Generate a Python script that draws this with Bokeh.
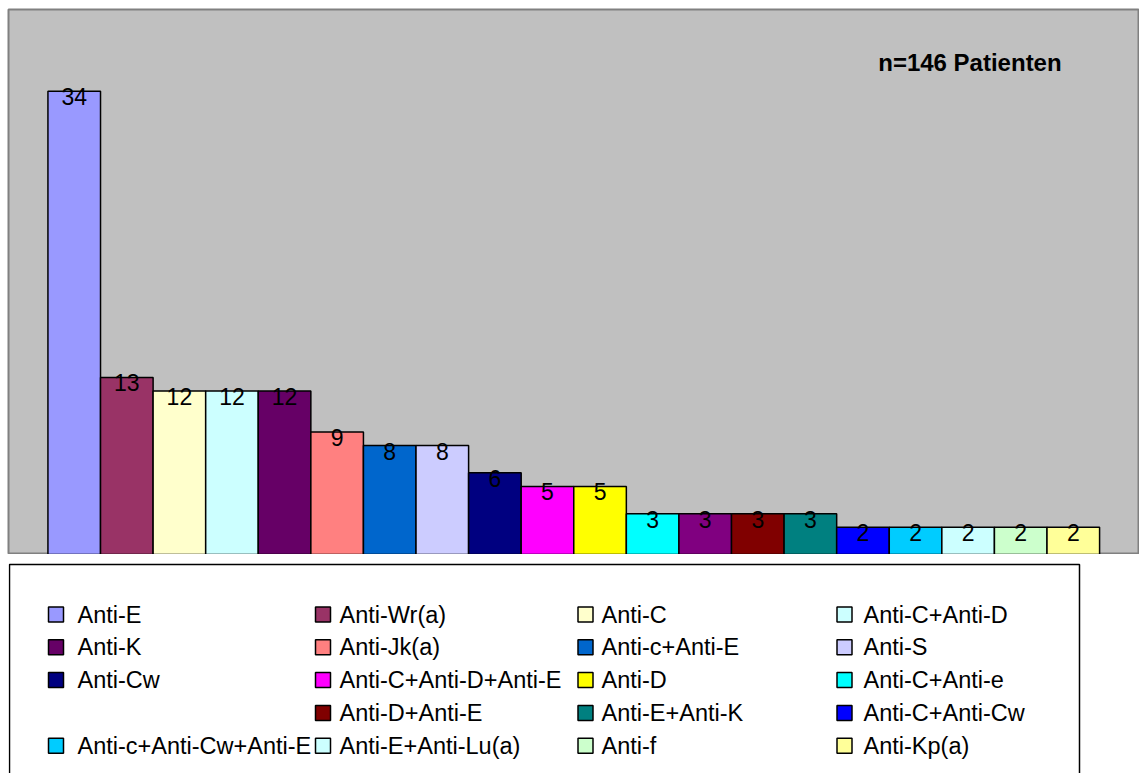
from bokeh.plotting import figure
from bokeh.layouts import column
from bokeh.models import ColumnDataSource, Range1d, Label
from bokeh.core.properties import value
from bokeh.embed import file_html
from bokeh.resources import INLINE

# Antibody specificities and number of patients
antibodies = [
    "Anti-E", "Anti-Wr(a)", "Anti-C", "Anti-C+Anti-D", "Anti-K",
    "Anti-Jk(a)", "Anti-c+Anti-E", "Anti-S", "Anti-Cw", "Anti-C+Anti-D+Anti-E",
    "Anti-D", "Anti-C+Anti-e", "", "Anti-D+Anti-E", "Anti-E+Anti-K",
    "Anti-C+Anti-Cw", "Anti-c+Anti-Cw+Anti-E", "Anti-E+Anti-Lu(a)", "Anti-f", "Anti-Kp(a)",
]
patients = [34, 13, 12, 12, 12, 9, 8, 8, 6, 5, 5, 3, 3, 3, 3, 2, 2, 2, 2, 2]
colors = [
    "#9999FF", "#993366", "#FFFFCC", "#CCFFFF", "#660066",
    "#FF8080", "#0066CC", "#CCCCFF", "#000080", "#FF00FF",
    "#FFFF00", "#00FFFF", "#800080", "#800000", "#008080",
    "#0000FF", "#00CCFF", "#CCFFFF", "#CCFFCC", "#FFFF99",
]
note = "n=146 Patienten"

FONT = "Liberation Sans"
W = 1139

idx = list(range(len(patients)))
src = ColumnDataSource(dict(
    x=[i + 0.5 for i in idx],
    top=patients,
    color=colors,
    label=[str(v) for v in patients],
))

# --- bar chart -------------------------------------------------------------
p = figure(width=W, height=554, output_backend="svg", toolbar_location=None,
           x_range=Range1d(-0.75, 20.74), y_range=Range1d(0, 40),
           x_axis_location=None, y_axis_location=None,
           min_border_left=8, min_border_right=1, min_border_top=9, min_border_bottom=0)
p.grid.visible = False
p.background_fill_color = "#C0C0C0"
p.border_fill_color = "white"
p.outline_line_color = "#808080"
p.outline_line_width = 2

p.vbar(x="x", top="top", width=1.0, bottom=0, source=src,
       fill_color="color", line_color="black", line_width=1.5)
p.text(x="x", y="top", text="label", source=src,
       text_align="center", text_baseline="top", y_offset=-3,
       text_font=value(FONT), text_font_size="23px", text_color="black")

p.add_layout(Label(x=15.79, y=36.1, text=note, text_align="left",
                   text_baseline="middle", text_font=FONT,
                   text_font_size="24px", text_font_style="bold",
                   text_color="black"))

# --- legend panel (data units are page pixels) -----------------------------
LH = 219
lg = figure(width=W, height=LH, output_backend="svg", toolbar_location=None,
            x_range=Range1d(8, W - 1), y_range=Range1d(LH, 0),
            x_axis_location=None, y_axis_location=None,
            min_border_left=8, min_border_right=1, min_border_top=0, min_border_bottom=0)
lg.grid.visible = False
lg.outline_line_color = None
lg.background_fill_color = "white"
lg.border_fill_color = "white"

# frame of the legend box (bottom edge runs past the page)
lg.line(x=[9, 9, 1079, 1079], y=[LH + 20, 10, 10, LH + 20],
        line_color="black", line_width=1.5)

ncol = 4
col_x = [77 + 262 * c for c in range(ncol)]
swatch_gap = [21.5, 16.5, 16, 19]
row_y = [60 + 32.8 * r for r in range(5)]
entries = [(antibodies[i], colors[i], i) for i in idx if antibodies[i]]
leg = ColumnDataSource(dict(
    tx=[col_x[i % ncol] for _, _, i in entries],
    mx=[col_x[i % ncol] - swatch_gap[i % ncol] for _, _, i in entries],
    y=[row_y[i // ncol] for _, _, i in entries],
    name=[n for n, _, _ in entries],
    color=[c for _, c, _ in entries],
))
lg.scatter(x="mx", y="y", source=leg, marker="square", size=15,
           fill_color="color", line_color="black", line_width=1.5)
lg.text(x="tx", y="y", text="name", source=leg, text_align="left",
        text_baseline="middle", text_font=value(FONT),
        text_font_size="23.5px", text_color="black")

layout = column(p, lg, spacing=0)
open("out.html", "w").write(file_html(layout, INLINE))
